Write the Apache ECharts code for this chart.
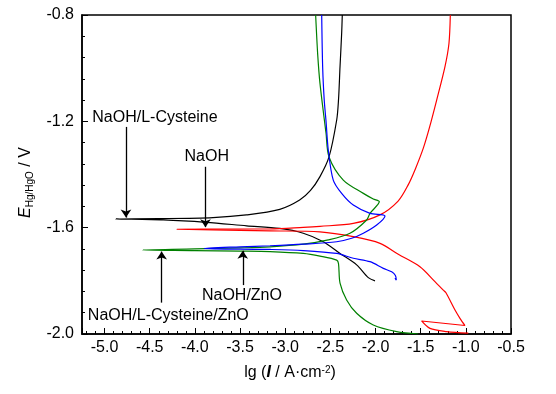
<!DOCTYPE html>
<html>
<head>
<meta charset="utf-8">
<script src="https://cdn.jsdelivr.net/npm/echarts@6/dist/echarts.min.js"></script>
<style>html,body{margin:0;padding:0;background:#fff}#c{width:556px;height:394px}</style>
</head>
<body>
<div id="c"></div>
<script>
// ---- data (lg i, E) ----
const blackAnodic = [[-4.88,-1.567],[-4.4,-1.566],[-3.8,-1.562],[-3.43,-1.552],[-3.06,-1.531],[-2.84,-1.496],[-2.72,-1.46],[-2.615,-1.408],[-2.515,-1.334],[-2.43,-1.195],[-2.41,-1.12],[-2.393,-0.994],[-2.375,-0.869],[-2.368,-0.8]];
const blackCathodic = [[-4.88,-1.567],[-4.35,-1.571],[-3.877,-1.58],[-3.427,-1.593],[-3.06,-1.603],[-2.80,-1.621],[-2.578,-1.653],[-2.393,-1.697],[-2.209,-1.740],[-2.08,-1.788],[-2.006,-1.800]];
const redAnodic = [[-4.2,-1.606],[-3.5,-1.605],[-3.168,-1.605],[-2.8,-1.599],[-2.615,-1.595],[-2.246,-1.584],[-1.951,-1.552],[-1.75,-1.50],[-1.64,-1.44],[-1.56,-1.38],[-1.47,-1.30],[-1.40,-1.22],[-1.323,-1.12],[-1.231,-0.994],[-1.187,-0.907],[-1.172,-0.8]];
const redCathodic = [[-4.2,-1.606],[-3.5,-1.610],[-3.168,-1.612],[-2.615,-1.616],[-2.246,-1.634],[-1.95,-1.659],[-1.748,-1.700],[-1.508,-1.747],[-1.342,-1.803],[-1.25,-1.835],[-1.22,-1.845],[-1.12,-1.91],[-1.065,-1.941],[-1.01,-1.968],[-1.49,-1.951],[-1.397,-1.979],[-1.212,-1.991],[-0.973,-1.997]];
const greenAnodic = [[-4.58,-1.684],[-4.0,-1.680],[-3.5,-1.676],[-3.168,-1.672],[-2.8,-1.662],[-2.523,-1.646],[-2.283,-1.621],[-2.098,-1.571],[-2.061,-1.546],[-1.958,-1.502],[-2.025,-1.492],[-2.135,-1.471],[-2.357,-1.421],[-2.515,-1.334],[-2.548,-1.245],[-2.615,-1.057],[-2.64,-0.95],[-2.663,-0.8]];
const greenCathodic = [[-4.58,-1.684],[-4.0,-1.686],[-3.5,-1.688],[-3.168,-1.690],[-2.80,-1.697],[-2.615,-1.707],[-2.43,-1.722],[-2.41,-1.735],[-2.393,-1.809],[-2.32,-1.872],[-2.209,-1.922],[-2.025,-1.966],[-1.766,-1.991],[-1.527,-2.0]];
const blueAnodic = [[-3.9,-1.678],[-3.5,-1.672],[-3.168,-1.668],[-2.8,-1.662],[-2.43,-1.653],[-2.264,-1.640],[-2.135,-1.621],[-1.987,-1.59],[-1.895,-1.556],[-2.061,-1.546],[-2.246,-1.515],[-2.375,-1.471],[-2.468,-1.421],[-2.523,-1.308],[-2.548,-1.2],[-2.568,-1.12],[-2.585,-1.0],[-2.596,-0.8]];
const blueCathodic = [[-3.9,-1.678],[-3.5,-1.681],[-3.168,-1.682],[-2.80,-1.686],[-2.43,-1.697],[-2.246,-1.715],[-2.061,-1.728],[-1.914,-1.753],[-1.821,-1.766],[-1.78,-1.780],[-1.77,-1.797],[-1.785,-1.790]];

const curveNames = ['NaOH/L-Cysteine','NaOH','NaOH/L-Cysteine/ZnO','NaOH/ZnO'];
const curveColors = ['#000000','#ff0000','#008000','#0000ff'];
const curveAnodic = [blackAnodic, redAnodic, greenAnodic, blueAnodic];
const curveCathodic = [blackCathodic, redCathodic, greenCathodic, blueCathodic];

// annotations: label position, arrow x, arrow tail y, arrow tip y
const labelText = ['NaOH/L-Cysteine','NaOH','NaOH/L-Cysteine/ZnO','NaOH/ZnO'];
const labelPos = [[-4.442,-1.1875],[-3.869,-1.333],[-4.294,-1.929],[-3.479,-1.857]];
const arrowX = [-4.763,-3.883,-4.368,-3.47];
const arrowTail = [-1.221,-1.371,-1.882,-1.816];
const arrowTip = [-1.562,-1.598,-1.69,-1.687];

const xTicks = {min:-5.25, max:-0.5};
const yTicks = {min:-2.0, max:-0.8, interval:0.4};

const FONT = 'Liberation Sans, Arial, sans-serif';
const chart = echarts.init(document.getElementById('c'), null, {renderer:'canvas'});

const series = curveNames.map((n,i)=>({
  name:n, type:'line', showSymbol:false, symbol:'none', smooth:0.3,
  lineStyle:{color:curveColors[i], width:1.2},
  data: curveAnodic[i].slice().reverse().concat(curveCathodic[i].slice(1)),
  animation:false, z:3
}));

series.push({
  type:'scatter', symbolSize:0, animation:false, silent:true,
  itemStyle:{opacity:1},
  data: labelText.map((t,i)=>({name:t, value:labelPos[i]})),
  label:{show:true, position:'inside', formatter:p=>p.name, color:'#000', opacity:1, fontSize:16, fontFamily:FONT},
  markLine:{
    silent:true, animation:false,
    symbol:['none','arrow'], symbolSize:8,
    itemStyle:{color:'#000'},
    lineStyle:{color:'#000', width:1.3, type:'solid', opacity:1},
    label:{show:false},
    data: arrowX.map((x,i)=>[{coord:[x,arrowTail[i]]},{coord:[x,arrowTip[i]]}])
  }
});

chart.setOption({
  backgroundColor:'#fff',
  animation:false,
  grid:{left:82, top:15, right:45, bottom:60, show:true, borderColor:'#000', borderWidth:1.5, backgroundColor:'transparent'},
  xAxis:{
    type:'value', min:xTicks.min, max:xTicks.max, splitNumber:10,
    name:'{n|lg (}{i|I}{n| / A·cm}{sup|-2}{n|)}',
    nameLocation:'middle', nameGap:31,
    nameTextStyle:{ padding:[0,13,0,0], rich:{
      n:{fontSize:16, fontFamily:FONT, color:'#000'},
      i:{fontSize:16, fontFamily:FONT, fontStyle:'italic', fontWeight:'bold', color:'#000'},
      sup:{fontSize:10, fontFamily:FONT, color:'#000', verticalAlign:'top', lineHeight:10}
    }},
    axisLine:{show:true, lineStyle:{color:'#000', width:1.5}},
    axisTick:{show:true, inside:true, length:6, lineStyle:{color:'#000', width:1}},
    minorTick:{show:true, splitNumber:5, length:3, lineStyle:{color:'#000', width:1}},
    axisLabel:{color:'#000', fontSize:16, fontFamily:FONT, margin:6, showMinLabel:false,
      formatter:v=>v.toFixed(1)},
    splitLine:{show:false}
  },
  yAxis:{
    type:'value', min:yTicks.min, max:yTicks.max, interval:yTicks.interval,
    name:'{e|E}{s|Hg/HgO}{n| / V}',
    nameLocation:'middle', nameGap:38, nameRotate:90,
    nameTextStyle:{ padding:[0,16,0,0], rich:{
      e:{fontSize:16, fontFamily:FONT, fontStyle:'italic', color:'#000', lineHeight:20},
      s:{fontSize:10, fontFamily:FONT, color:'#000', verticalAlign:'bottom', lineHeight:10},
      n:{fontSize:16, fontFamily:FONT, color:'#000', lineHeight:20}
    }},
    axisLine:{show:true, lineStyle:{color:'#000', width:1.5}},
    axisTick:{show:true, inside:true, length:6, lineStyle:{color:'#000', width:1}},
    minorTick:{show:true, splitNumber:5, length:3, lineStyle:{color:'#000', width:1}},
    axisLabel:{color:'#000', fontSize:16, fontFamily:FONT, margin:8, formatter:v=>v.toFixed(1)},
    splitLine:{show:false}
  },
  series: series
});
</script>
</body>
</html>
